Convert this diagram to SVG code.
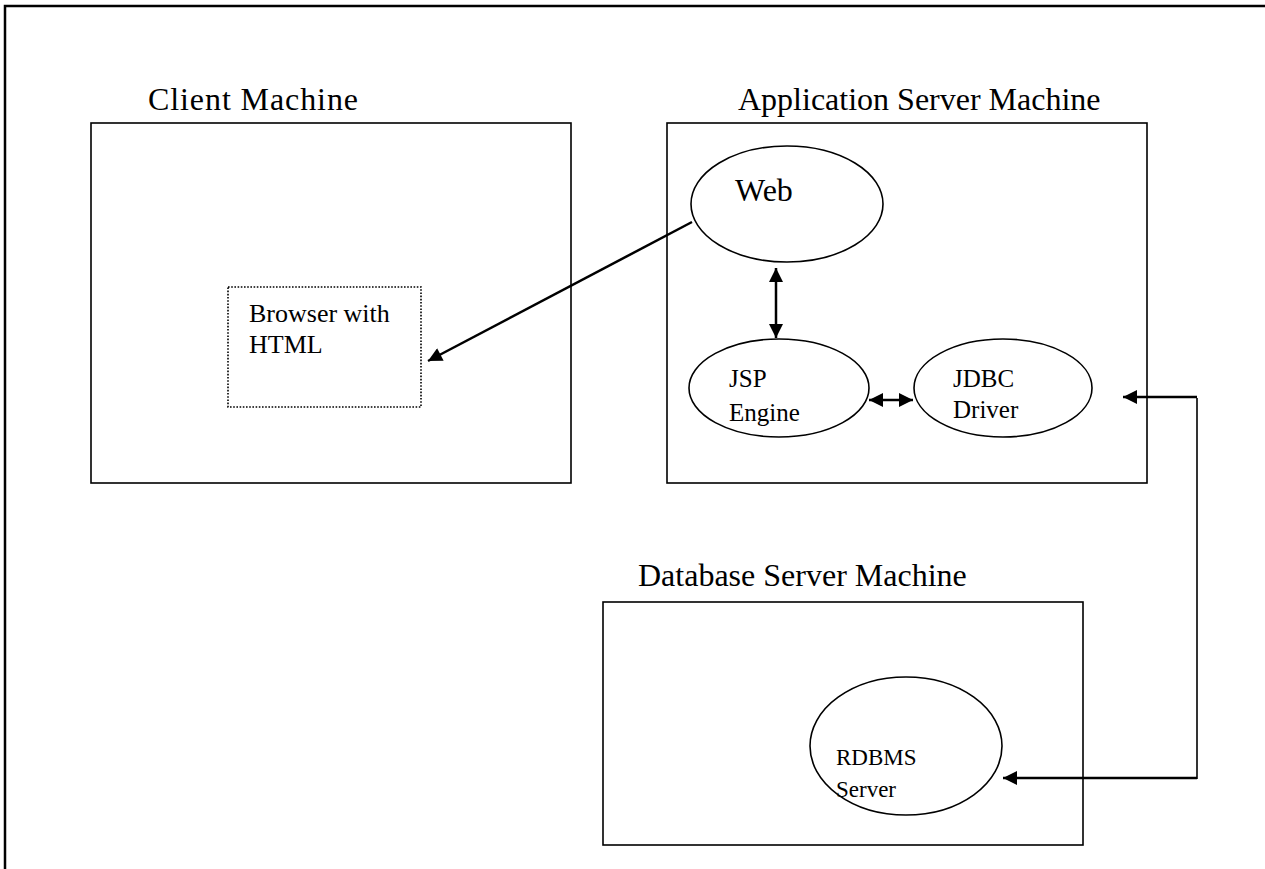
<svg xmlns="http://www.w3.org/2000/svg" width="1265" height="869" viewBox="0 0 1265 869">
<style>
.box{fill:none;stroke:#000;stroke-width:1.6}
.node{fill:#fff;stroke:#000;stroke-width:1.6}
.t{font-family:"Liberation Serif","Times New Roman",serif;fill:#000}
.big{font-size:32px}
.mid{font-size:26px}
.sm{font-size:25px}
.xs{font-size:23px}
.c{fill:none;stroke:#000;stroke-width:2.5}
</style>
<defs>
<marker id="ah" viewBox="0 0 10 10" refX="10" refY="5" markerWidth="7" markerHeight="5.6" markerUnits="strokeWidth" orient="auto-start-reverse">
<path d="M0,0 L10,5 L0,10 z" fill="#000"/>
</marker>
</defs>
<rect width="1265" height="869" fill="#fff"/>
<path d="M5,880 L5,6 L1275,6" fill="none" stroke="#000" stroke-width="2.5"/>
<g id="client">
<rect class="box" x="91" y="123" width="480" height="360"/>
<text class="t big" x="148" y="110" textLength="210">Client Machine</text>
</g>
<g id="browser">
<rect x="228" y="287" width="193" height="120" fill="none" stroke="#000" stroke-width="1.6" stroke-dasharray="1.6,1.6"/>
<text class="t mid" x="249" y="322">Browser with</text>
<text class="t mid" x="249" y="353">HTML</text>
</g>
<g id="appserver">
<rect class="box" x="667" y="123" width="480" height="360"/>
<text class="t big" x="738" y="110">Application Server Machine</text>
</g>
<g id="web">
<ellipse class="node" cx="787" cy="204" rx="96" ry="58"/>
<text class="t big" x="735" y="201">Web</text>
</g>
<g id="jsp">
<ellipse class="node" cx="779" cy="388" rx="90" ry="49"/>
<text class="t sm" x="729" y="387">JSP</text>
<text class="t sm" x="729" y="421">Engine</text>
</g>
<g id="jdbc">
<ellipse class="node" cx="1003" cy="388" rx="89" ry="49"/>
<text class="t sm" x="953" y="387">JDBC</text>
<text class="t sm" x="953" y="418">Driver</text>
</g>
<g id="dbserver">
<rect class="box" x="603" y="602" width="480" height="243"/>
<text class="t big" x="638" y="586">Database Server Machine</text>
</g>
<g id="rdbms">
<ellipse class="node" cx="906" cy="746" rx="96" ry="69"/>
<text class="t xs" x="836" y="765">RDBMS</text>
<text class="t xs" x="836" y="797">Server</text>
</g>
<g id="connectors">
<line class="c" x1="692" y1="222" x2="428" y2="361" marker-end="url(#ah)"/>
<line class="c" x1="776" y1="268" x2="776" y2="338" marker-start="url(#ah)" marker-end="url(#ah)"/>
<line class="c" x1="869" y1="400" x2="913" y2="400" marker-start="url(#ah)" marker-end="url(#ah)"/>
<line class="c" x1="1197" y1="397" x2="1123" y2="397" marker-end="url(#ah)"/>
<line x1="1197" y1="398" x2="1197" y2="779" stroke="#000" stroke-width="1.6"/>
<line class="c" x1="1197" y1="778" x2="1003" y2="778" marker-end="url(#ah)"/>
</g>
</svg>
